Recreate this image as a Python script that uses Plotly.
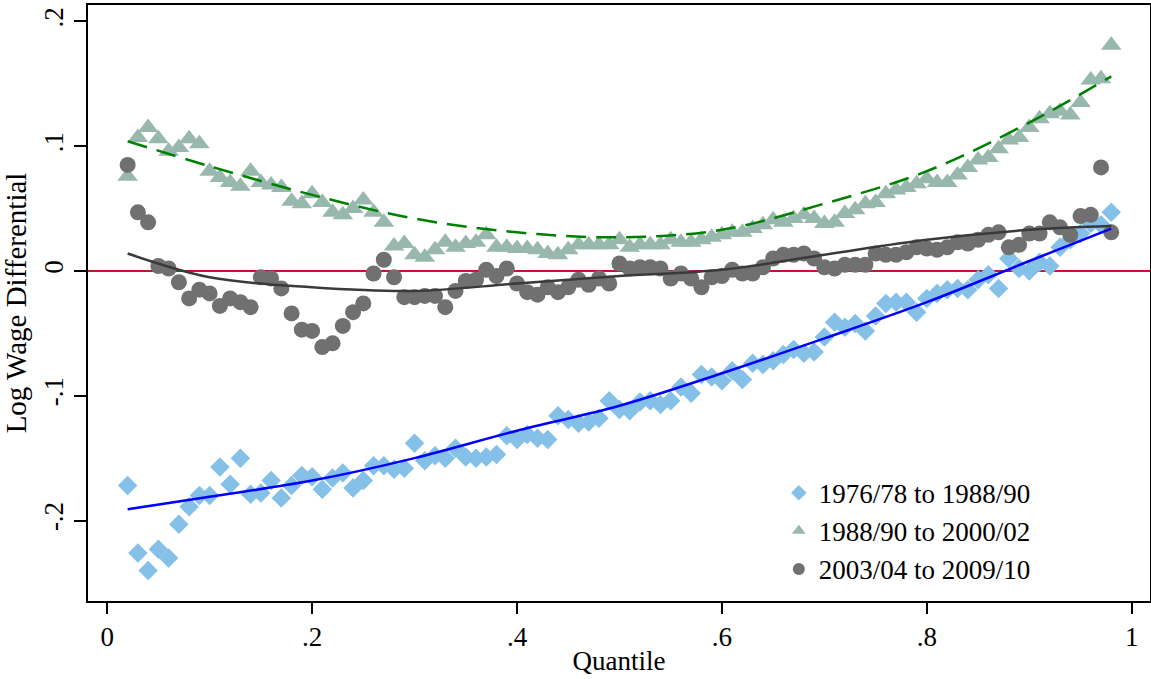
import plotly.graph_objects as go

quantiles = [0.02, 0.03, 0.04, 0.05, 0.06, 0.07, 0.08, 0.09, 0.10, 0.11, 0.12, 0.13, 0.14, 0.15,
             0.16, 0.17, 0.18, 0.19, 0.20, 0.21, 0.22, 0.23, 0.24, 0.25, 0.26, 0.27, 0.28, 0.29,
             0.30, 0.31, 0.32, 0.33, 0.34, 0.35, 0.36, 0.37, 0.38, 0.39, 0.40, 0.41, 0.42, 0.43,
             0.44, 0.45, 0.46, 0.47, 0.48, 0.49, 0.50, 0.51, 0.52, 0.53, 0.54, 0.55, 0.56, 0.57,
             0.58, 0.59, 0.60, 0.61, 0.62, 0.63, 0.64, 0.65, 0.66, 0.67, 0.68, 0.69, 0.70, 0.71,
             0.72, 0.73, 0.74, 0.75, 0.76, 0.77, 0.78, 0.79, 0.80, 0.81, 0.82, 0.83, 0.84, 0.85,
             0.86, 0.87, 0.88, 0.89, 0.90, 0.91, 0.92, 0.93, 0.94, 0.95, 0.96, 0.97, 0.98]

diff_1976_1988 = [-0.172, -0.226, -0.240, -0.223, -0.230, -0.203, -0.189, -0.180, -0.180, -0.157,
                  -0.171, -0.150, -0.179, -0.178, -0.168, -0.182, -0.172, -0.164, -0.165, -0.175,
                  -0.166, -0.162, -0.174, -0.168, -0.156, -0.156, -0.159, -0.158, -0.138, -0.152,
                  -0.148, -0.150, -0.142, -0.149, -0.150, -0.149, -0.147, -0.132, -0.135, -0.131,
                  -0.134, -0.135, -0.116, -0.119, -0.122, -0.121, -0.118, -0.104, -0.111, -0.112,
                  -0.105, -0.104, -0.107, -0.104, -0.093, -0.098, -0.083, -0.085, -0.088, -0.080,
                  -0.087, -0.074, -0.075, -0.072, -0.067, -0.063, -0.066, -0.065, -0.053, -0.041,
                  -0.045, -0.042, -0.048, -0.036, -0.026, -0.025, -0.025, -0.033, -0.022, -0.018,
                  -0.015, -0.014, -0.015, -0.007, -0.003, -0.014, 0.010, 0.002, 0.000, 0.007,
                  0.004, 0.019, 0.025, 0.030, 0.038, 0.037, 0.047]

diff_1988_2000 = [0.076, 0.107, 0.115, 0.106, 0.096, 0.099, 0.106, 0.102, 0.080, 0.075,
                  0.071, 0.068, 0.080, 0.071, 0.069, 0.067, 0.056, 0.054, 0.062, 0.055,
                  0.047, 0.045, 0.050, 0.057, 0.047, 0.039, 0.020, 0.022, 0.013, 0.011,
                  0.017, 0.023, 0.019, 0.022, 0.023, 0.029, 0.019, 0.019, 0.018, 0.018,
                  0.017, 0.014, 0.013, 0.017, 0.021, 0.021, 0.021, 0.021, 0.025, 0.019,
                  0.021, 0.021, 0.021, 0.025, 0.023, 0.023, 0.025, 0.027, 0.029, 0.031,
                  0.031, 0.034, 0.037, 0.041, 0.039, 0.042, 0.045, 0.042, 0.038, 0.039,
                  0.046, 0.049, 0.054, 0.055, 0.062, 0.065, 0.067, 0.070, 0.074, 0.071,
                  0.071, 0.077, 0.083, 0.089, 0.091, 0.098, 0.105, 0.107, 0.115, 0.122,
                  0.126, 0.128, 0.125, 0.135, 0.153, 0.154, 0.181]

diff_2003_2009 = [0.085, 0.047, 0.039, 0.004, 0.002, -0.009, -0.022, -0.015, -0.018, -0.028,
                  -0.022, -0.025, -0.029, -0.005, -0.006, -0.014, -0.034, -0.047, -0.048, -0.061,
                  -0.058, -0.044, -0.033, -0.026, -0.002, 0.009, -0.005, -0.021, -0.021, -0.020,
                  -0.020, -0.029, -0.016, -0.008, -0.007, 0.001, -0.004, 0.002, -0.010, -0.017,
                  -0.019, -0.013, -0.017, -0.013, -0.007, -0.011, -0.006, -0.010, 0.006, 0.002,
                  0.003, 0.003, 0.002, -0.006, -0.002, -0.006, -0.013, -0.005, -0.004, 0.001,
                  -0.002, -0.002, 0.003, 0.010, 0.013, 0.013, 0.014, 0.010, 0.003, 0.002,
                  0.005, 0.005, 0.005, 0.014, 0.013, 0.013, 0.015, 0.019, 0.018, 0.017,
                  0.019, 0.023, 0.022, 0.025, 0.029, 0.031, 0.019, 0.021, 0.030, 0.030,
                  0.039, 0.035, 0.029, 0.044, 0.045, 0.083, 0.031]

fit_x = [0.02, 0.10, 0.20, 0.30, 0.40, 0.50, 0.60, 0.70, 0.80, 0.90, 0.98]
fit_1976_1988 = [-0.191, -0.181, -0.168, -0.150, -0.128, -0.108, -0.082, -0.054, -0.025, 0.008, 0.034]
fit_1988_2000 = [0.104, 0.084, 0.061, 0.042, 0.031, 0.027, 0.033, 0.054, 0.080, 0.119, 0.156]
fit_2003_2009 = [0.014, -0.005, -0.013, -0.016, -0.010, -0.004, 0.001, 0.013, 0.025, 0.033, 0.036]

series_names = ["1976/78 to 1988/90", "1988/90 to 2000/02", "2003/04 to 2009/10"]

x_tickvals = [0, 0.2, 0.4, 0.6, 0.8, 1]
x_ticktext = ["0", ".2", ".4", ".6", ".8", "1"]
y_tickvals = [-0.2, -0.1, 0, 0.1, 0.2]
y_ticktext = ["-.2", "-.1", "0", ".1", ".2"]

FONT = "Liberation Serif, Times New Roman, serif"
FS = 27

fig = go.Figure()

fig.add_trace(go.Scatter(x=quantiles, y=diff_1976_1988, mode="markers", name=series_names[0],
                         marker=dict(symbol="diamond", size=15, color="#85C0E9")))
fig.add_trace(go.Scatter(x=quantiles, y=diff_1988_2000, mode="markers", name=series_names[1],
                         marker=dict(symbol="triangle-up", size=18, color="#98B8AE")))
fig.add_trace(go.Scatter(x=quantiles, y=diff_2003_2009, mode="markers", name=series_names[2],
                         marker=dict(symbol="circle", size=16, color="#707070")))

fig.add_trace(go.Scatter(x=fit_x, y=fit_1976_1988, mode="lines", showlegend=False,
                         line=dict(color="#0000FF", width=2.5, shape="spline")))
fig.add_trace(go.Scatter(x=fit_x, y=fit_1988_2000, mode="lines", showlegend=False,
                         line=dict(color="#008000", width=2.5, dash="20px,10px", shape="spline")))
fig.add_trace(go.Scatter(x=fit_x, y=fit_2003_2009, mode="lines", showlegend=False,
                         line=dict(color="#3A3A3A", width=2.5, shape="spline")))

fig.add_shape(type="line", xref="paper", yref="y", x0=0, x1=1, y0=0, y1=0,
              line=dict(color="#C8103C", width=2), layer="below")

fig.update_layout(
    width=1151, height=679,
    margin=dict(l=88, r=1, t=5, b=78, autoexpand=False),
    paper_bgcolor="white", plot_bgcolor="white",
    font=dict(family=FONT, size=FS, color="black"),
    showlegend=True,
    legend=dict(x=0.6505, y=0.222, xanchor="left", yanchor="top",
                bgcolor="rgba(0,0,0,0)", font=dict(family=FONT, size=FS),
                itemsizing="constant", tracegroupgap=0),
    xaxis=dict(range=[-0.0187, 1.0178], tickvals=x_tickvals, ticktext=x_ticktext,
               automargin=False,
               showgrid=False, zeroline=False, showline=True, mirror=True,
               linecolor="black", linewidth=2, ticks="outside", ticklen=11, tickwidth=1.5,
               tickcolor="black",
               title=dict(text="Quantile", standoff=0, font=dict(family=FONT, size=FS))),
    yaxis=dict(range=[-0.2645, 0.2132], tickvals=y_tickvals, ticktext=y_ticktext,
               tickangle=-90, automargin=False,
               showgrid=False, zeroline=False, showline=True, mirror=True,
               linecolor="black", linewidth=2, ticks="outside", ticklen=12, tickwidth=1.5,
               tickcolor="black",
               title=dict(text="Log Wage Differential", standoff=6, font=dict(family=FONT, size=29))),
)

fig.write_html("out.html", config={"displayModeBar": False},
               post_script="document.body.style.margin='0';document.body.style.overflow='hidden';")
